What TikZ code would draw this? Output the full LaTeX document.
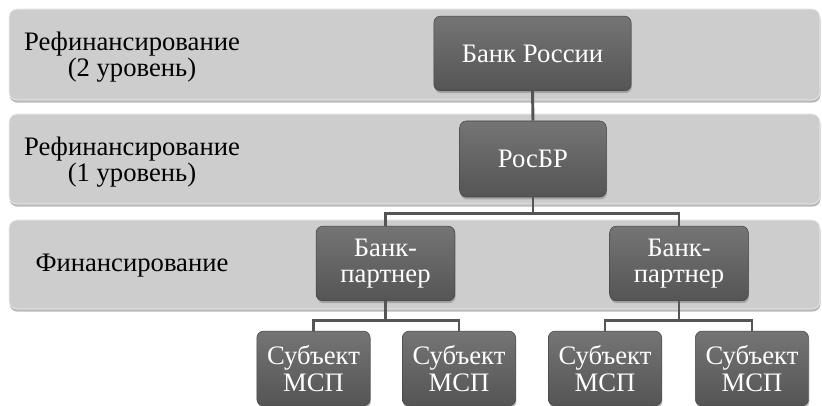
\documentclass[tikz,border=0pt]{standalone}
\usepackage{fontspec}
\setmainfont{Liberation Serif}
\usetikzlibrary{shadows}
\definecolor{bandgray}{RGB}{205,205,205}
\definecolor{boxgray}{RGB}{92,92,92}
\definecolor{linkgray}{RGB}{85,85,85}

\begin{document}
\begin{tikzpicture}[x=0.75pt, y=-0.75pt,
  band/.style={fill=bandgray, draw=white!88!gray, rounded corners=6pt,
    drop shadow={shadow xshift=0.4pt, shadow yshift=-2pt, opacity=0.55}},
  lbl/.style={font=\fontsize{20}{19.5}\selectfont, align=center},
  unit/.style={rounded corners=5pt, top color=boxgray!85!white, bottom color=boxgray!92!black,
    draw=boxgray!75!black, text=white, align=center, inner sep=0pt, minimum height=56pt,
    font=\fontsize{20}{20}\selectfont,
    drop shadow={shadow xshift=0.6pt, shadow yshift=-1.8pt, opacity=0.5}},
  link/.style={draw=linkgray, line width=2.2pt}]
 \useasboundingbox (0,0) rectangle (822,406);
 % levels
 \foreach \t/\b in {9/100, 114/204, 220/309}
   \draw[band] (9,\t) rectangle (820,\b);
 \node[lbl] (lvlA) at (132,57) {Рефинансирование\\(2 уровень)};
 \node[lbl] (lvlB) at (132,162) {Рефинансирование\\(1 уровень)};
 \node[lbl] (lvlC) at (132,266) {Финансирование};
 % boxes
 \node[unit, minimum width=148pt] (bank) at (532.5,53.5) {Банк России};
 \node[unit, minimum width=110pt, minimum height=57pt] (rosbr) at (533,159) {РосБР};
 \node[unit, minimum width=104pt] (partnerA) at (385.5,263.5) {Банк-\\партнер};
 \node[unit, minimum width=104pt] (partnerB) at (679,263.5) {Банк-\\партнер};
 \foreach \n/\x in {A/313.5, B/459, C/605, D/752}
   \node[unit, minimum width=85pt] (msp\n) at (\x,368.5) {Субъект\\МСП};
 % links
 \draw[link] (bank.south) -- (rosbr.north);
 \draw[link] (rosbr.south) -- ++(0,16) -| (partnerA.north);
 \draw[link] (rosbr.south) -- ++(0,16) -| (partnerB.north);
 \foreach \p/\a/\b in {A/A/B, B/C/D}{
   \draw[link] (partner\p.south) -- ++(0,19) -| (msp\a.north);
   \draw[link] (partner\p.south) -- ++(0,19) -| (msp\b.north);
 }
\end{tikzpicture}
\end{document}
